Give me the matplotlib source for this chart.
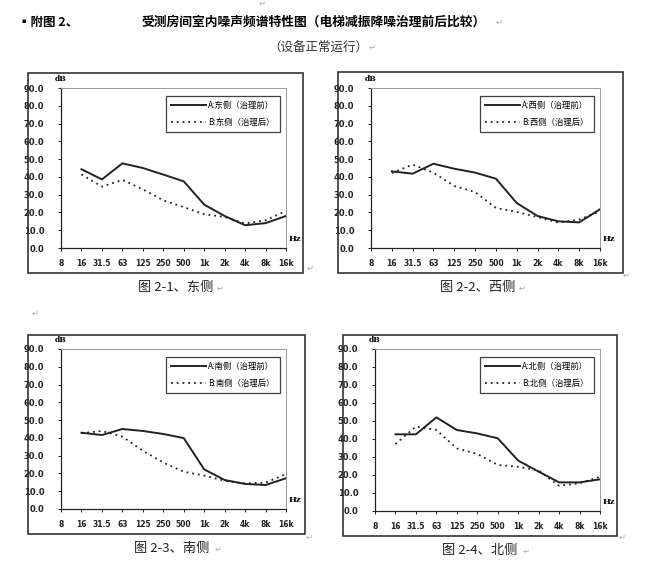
import matplotlib
matplotlib.use("Agg")
import matplotlib.pyplot as plt
from matplotlib.patches import Rectangle

plt.rcParams['font.family'] = ['Noto Sans CJK SC', 'DejaVu Sans']

# octave band centre frequencies (category axis, first one is empty)
bands = ["8", "16", "31.5", "63", "125", "250", "500", "1k", "2k", "4k", "8k", "16k"]

# A: before treatment, B: after treatment (dB)
east_a = [44.3, 38.6, 47.6, 45.0, 41.3, 37.5, 24.4, 18.0, 12.8, 14.0, 18.0]
east_b = [41.4, 34.5, 38.3, 33.0, 26.8, 23.0, 19.0, 17.5, 13.7, 15.6, 20.8]
west_a = [43.1, 41.8, 47.4, 44.6, 42.4, 39.0, 25.3, 18.0, 15.0, 14.4, 21.8]
west_b = [42.2, 46.9, 42.4, 34.9, 31.5, 22.5, 20.3, 17.4, 14.3, 16.0, 20.6]
south_a = [42.9, 41.6, 45.0, 43.9, 42.2, 39.9, 22.3, 16.3, 14.1, 13.5, 17.3]
south_b = [42.6, 43.9, 40.7, 32.8, 26.1, 21.0, 18.8, 15.9, 14.4, 14.8, 19.7]
north_a = [42.6, 42.6, 52.0, 45.0, 43.1, 40.4, 28.0, 21.9, 15.9, 15.9, 17.6]
north_b = [37.2, 46.9, 45.0, 34.8, 31.7, 25.6, 24.6, 22.5, 14.0, 15.4, 19.0]

sides = ["东侧", "西侧", "南侧", "北侧"]
captions = ["图 2-1、东侧", "图 2-2、西侧", "图 2-3、南侧", "图 2-4、北侧"]
series = [(east_a, east_b), (west_a, west_b), (south_a, south_b), (north_a, north_b)]

W, H = 651, 569
fig = plt.figure(figsize=(W / 100, H / 100), dpi=100)

def fx(px):
    return px / W

def fy(py):
    return 1 - py / H

# pixel boxes: plot area (l, r, t, b), outer frame (l, r, t, b), caption (x, y)
plot_boxes = [(61, 286, 88, 248), (371, 600, 88, 248), (61, 286, 349, 509), (375, 600, 349, 511)]
frames = [(28, 303, 73, 273), (338, 623, 72, 273), (28, 305, 335, 534), (343, 617, 335, 536)]
cap_pos = [(176, 287), (478, 287), (172, 548), (480, 550)]

for i in range(4):
    fl, fr, ft, fb = frames[i]
    fig.patches.append(Rectangle((fx(fl), fy(fb)), fx(fr - fl), (fb - ft) / H,
                                 transform=fig.transFigure, fill=False,
                                 edgecolor='#333333', linewidth=1.2))
    l, r, t, b = plot_boxes[i]
    ax = fig.add_axes([fx(l), fy(b), fx(r - l), (b - t) / H])
    xs = list(range(1, len(bands)))
    a, bb = series[i]
    ax.plot(xs, a, color='#222222', linewidth=1.4, label=f"A:{sides[i]}（治理前）")
    ax.plot(xs, bb, color='#222222', linewidth=1.3, linestyle=(0, (1, 2.2)),
            label=f"B:{sides[i]}（治理后）")
    ax.set_xlim(0, len(bands) - 1)
    ax.set_ylim(0, 90)
    ax.set_yticks(range(0, 91, 10))
    ax.set_yticklabels([f"{v:.1f}" for v in range(0, 91, 10)], fontsize=6,
                       fontweight='bold', family=['DejaVu Sans'])
    ax.set_xticks(range(len(bands)))
    ax.set_xticklabels(bands, fontsize=5.5, fontweight='bold', family=['DejaVu Sans'])
    ax.tick_params(axis='both', length=2, width=0.7, colors='#222222', pad=6)
    ax.tick_params(axis='y', pad=10)
    for s in ['left', 'bottom']:
        ax.spines[s].set_color('#222222')
        ax.spines[s].set_linewidth(0.9)
    for s in ['top', 'right']:
        ax.spines[s].set_color('#999999')
        ax.spines[s].set_linewidth(0.7)
    ax.text(0, 1.03, "dB", transform=ax.transAxes, fontsize=5.5, ha='center',
            va='bottom', fontweight='bold', family=['DejaVu Serif'])
    ax.text(1.01, 0.03, "Hz", transform=ax.transAxes, fontsize=6, ha='left',
            va='bottom', fontweight='bold', family=['DejaVu Serif'])
    leg = ax.legend(loc='upper right', bbox_to_anchor=(0.99, 0.975), fontsize=6,
                    frameon=True, fancybox=False, handlelength=4.2,
                    borderpad=0.6, labelspacing=0.9, handletextpad=0.3)
    leg.get_frame().set_edgecolor('#111111')
    leg.get_frame().set_linewidth(0.9)
    cx, cy = cap_pos[i]
    fig.text(fx(cx), fy(cy), captions[i], fontsize=9.5, ha='center', va='center',
             color='#222222')

# headings
fig.text(fx(18), fy(22), "▪附图 2、", fontsize=9, fontweight='bold', ha='left', va='center')
fig.text(fx(314), fy(22), "受测房间室内噪声频谱特性图（电梯减振降噪治理前后比较）",
         fontsize=9.2, fontweight='bold', ha='center', va='center')
fig.text(fx(318), fy(47), "（设备正常运行）", fontsize=9, ha='center', va='center',
         color='#333333')

# paragraph marks
for px, py in [(499, 22), (372, 47), (262, 3), (220, 288), (310, 268), (522, 288),
               (626, 275), (218, 549), (309, 537), (526, 551), (622, 537), (35, 313)]:
    fig.text(fx(px), fy(py), "↵", fontsize=6, color='#aaaaaa', ha='center',
             va='center', family=['DejaVu Sans'])

fig.savefig("out.png", dpi=100)
